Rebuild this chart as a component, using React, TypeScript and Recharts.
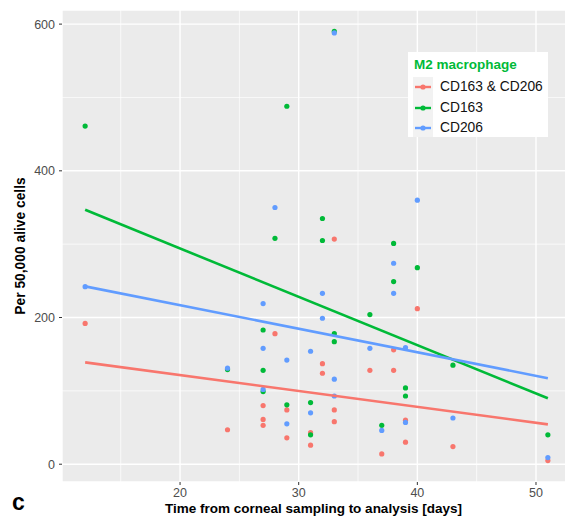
import React from 'react';
import {
  ScatterChart, Scatter, XAxis, YAxis, CartesianGrid, ReferenceLine
} from 'recharts';

// days from corneal sampling to analysis, one entry per sample
const days = [12, 24, 27, 27, 27, 28, 29, 29, 31, 31, 32, 32, 33, 33, 33, 36, 37, 38, 38, 39, 39, 40, 43, 51];

// cells per 50,000 alive cells
const cd163cd206 = [192, 47, 80, 61, 53, 178, 74, 36, 43, 26, 137, 124, 307, 74, 58, 128, 14, 156, 128, 60, 30, 212, 24, 5];
const cd163 = [461, 129, 183, 128, 99, 308, 488, 81, 84, 40, 335, 305, 590, 178, 167, 204, 53, 301, 249, 104, 93, 268, 135, 40];
const cd206 = [242, 131, 219, 158, 102, 350, 142, 55, 154, 70, 233, 199, 588, 116, 93, 158, 46, 274, 233, 159, 57, 360, 63, 9];

const xTicks = [20, 30, 40, 50];
const xMinor = [15, 25, 35, 45];
const yTicks = [0, 200, 400, 600];
const yMinor = [100, 300, 500];

const series = [
  { name: 'CD163 & CD206', values: cd163cd206, color: '#F8766D' },
  { name: 'CD163', values: cd163, color: '#00BA38' },
  { name: 'CD206', values: cd206, color: '#619CFF' },
];

const FONT = '"Liberation Sans", Arial, sans-serif';

const toPoints = (values: number[]) => days.map((d, i) => ({ x: d, y: values[i] }));

// least squares line over the x range, like geom_smooth(method = "lm")
const lmFit = (values: number[]) => {
  const n = days.length;
  const mx = days.reduce((a, b) => a + b, 0) / n;
  const my = values.reduce((a, b) => a + b, 0) / n;
  let sxy = 0;
  let sxx = 0;
  days.forEach((d, i) => {
    sxy += (d - mx) * (values[i] - my);
    sxx += (d - mx) * (d - mx);
  });
  const slope = sxy / sxx;
  const x0 = Math.min(...days);
  const x1 = Math.max(...days);
  return [
    { x: x0, y: my + slope * (x0 - mx) },
    { x: x1, y: my + slope * (x1 - mx) },
  ];
};

// ggplot's default 5% expansion
const expand = (vals: number[]): [number, number] => {
  const lo = Math.min(...vals);
  const hi = Math.max(...vals);
  const pad = (hi - lo) * 0.05;
  return [lo - pad, hi + pad];
};

const xDomain = expand(days);
const yDomain = expand([...cd163cd206, ...cd163, ...cd206]);

const dot = (color: string) => (props: any) => (
  <circle cx={props.cx} cy={props.cy} r={2.6} fill={color} />
);

const YTitle = (props: any) => {
  const vb = props.viewBox || {};
  const cx = (vb.x || 0) + 20;
  const cy = (vb.y || 0) + (vb.height || 0) / 2;
  return (
    <text x={cx} y={cy} transform={`rotate(-90 ${cx} ${cy})`} textAnchor="middle"
      dominantBaseline="central" fontFamily={FONT} fontWeight="bold" fontSize={13.8} fill="#000">
      Per 50,000 alive cells
    </text>
  );
};

const XTitle = (props: any) => {
  const vb = props.viewBox || {};
  const cx = (vb.x || 0) + (vb.width || 0) / 2 - 3;
  const y = (vb.y || 0) + 31;
  return (
    <text x={cx} y={y} textAnchor="middle" fontFamily={FONT} fontWeight="bold" fontSize={13.5} fill="#000">
      Time from corneal sampling to analysis [days]
    </text>
  );
};

const tickStyle = { fill: '#4D4D4D', fontSize: 12.5, fontFamily: FONT };

export default function App() {
  return (
    <div style={{ position: 'absolute', left: 0, top: 0, width: 565, height: 519, overflow: 'hidden', background: '#fff' }}>
      <ScatterChart width={571} height={519} margin={{ top: 10, right: 0, bottom: 0, left: 0 }}>
        <CartesianGrid fill="#EBEBEB" stroke="#FFFFFF" strokeWidth={1.4} />
        {xMinor.map(v => (
          <ReferenceLine key={'x' + v} x={v} stroke="#FFFFFF" strokeWidth={0.7} />
        ))}
        {yMinor.map(v => (
          <ReferenceLine key={'y' + v} y={v} stroke="#FFFFFF" strokeWidth={0.7} />
        ))}
        <XAxis
          type="number"
          dataKey="x"
          domain={xDomain}
          ticks={xTicks}
          allowDataOverflow
          height={37}
          axisLine={false}
          tickLine={{ stroke: '#333333' }}
          tickSize={3}
          tickMargin={3}
          tick={tickStyle}
          label={(p: any) => <XTitle {...p} />}
        />
        <YAxis
          type="number"
          dataKey="y"
          domain={yDomain}
          ticks={yTicks}
          allowDataOverflow
          width={62}
          axisLine={false}
          tickLine={{ stroke: '#333333' }}
          tickSize={3}
          tickMargin={4}
          tick={tickStyle}
          label={(p: any) => <YTitle {...p} />}
        />
        {series.map(s => (
          <Scatter
            key={s.name}
            name={s.name}
            data={toPoints(s.values)}
            shape={dot(s.color)}
            isAnimationActive={false}
          />
        ))}
        {series.map(s => (
          <Scatter
            key={s.name + '-fit'}
            data={lmFit(s.values)}
            line={{ stroke: s.color, strokeWidth: 2.6 }}
            shape={() => <g />}
            isAnimationActive={false}
          />
        ))}
      </ScatterChart>

      <div style={{
        position: 'absolute', left: 408, top: 52, width: 140, height: 85,
        background: '#fff', fontFamily: FONT,
      }}>
        <div style={{ position: 'absolute', left: 6, top: 5, color: '#00BA38', fontWeight: 'bold', fontSize: 13.5, whiteSpace: 'nowrap' }}>
          M2 macrophage
        </div>
        <div style={{ position: 'absolute', left: 5, top: 25, width: 20, height: 60, background: '#F2F2F2' }} />
        {series.map((s, i) => (
          <div key={s.name} style={{ position: 'absolute', left: 5, top: 25 + i * 20.5, height: 20, width: 135 }}>
            <svg width={20} height={20} style={{ position: 'absolute', left: 0, top: 0 }}>
              <line x1={2} y1={10} x2={18} y2={10} stroke={s.color} strokeWidth={2.4} />
              <circle cx={10} cy={10} r={2.6} fill={s.color} />
            </svg>
            <div style={{ position: 'absolute', left: 27, top: 2, fontSize: 13.8, color: '#111', whiteSpace: 'nowrap' }}>
              {s.name}
            </div>
          </div>
        ))}
      </div>

      <div style={{ position: 'absolute', left: 12, top: 491, fontFamily: FONT, fontWeight: 'bold', fontSize: 23, lineHeight: '23px', color: '#000' }}>
        c
      </div>
    </div>
  );
}
